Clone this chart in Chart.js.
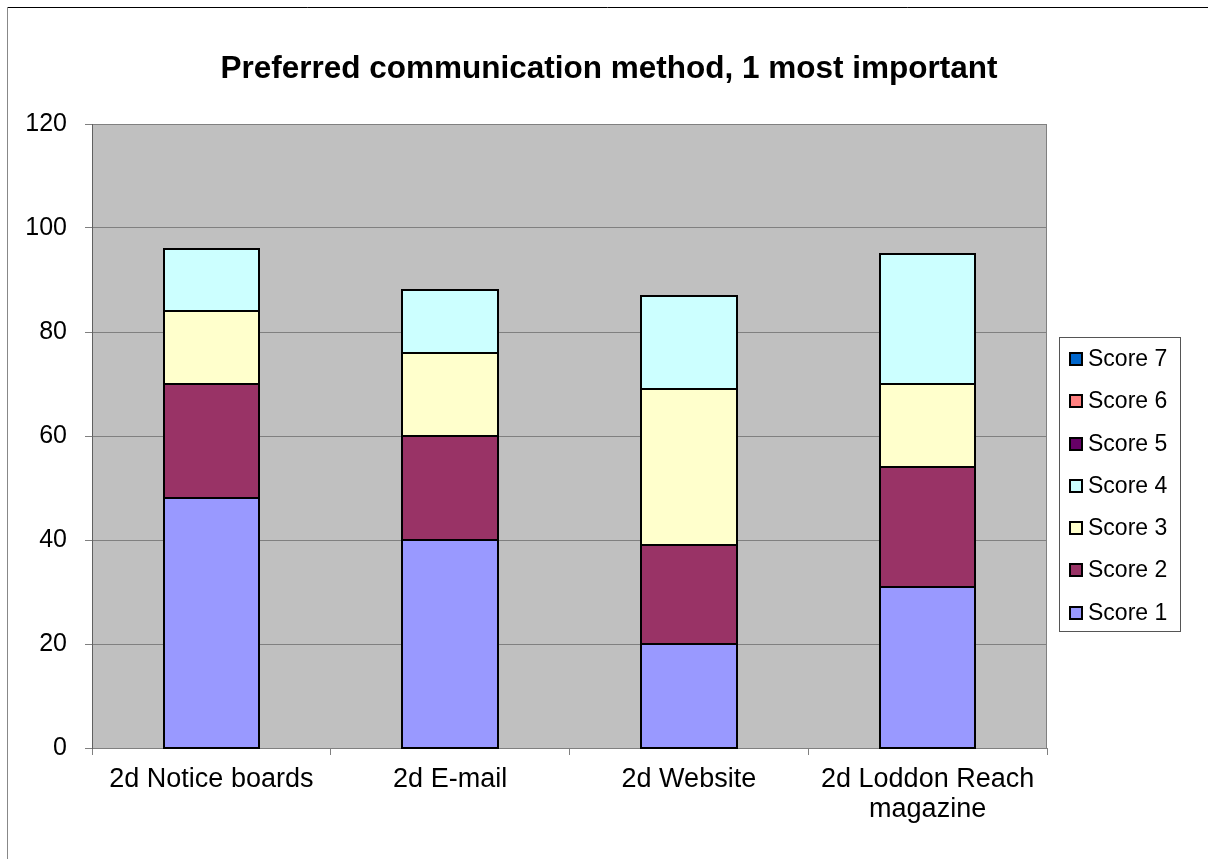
<!DOCTYPE html>
<html lang="en">
  <head>
    <meta charset="UTF-8" />
    <title>Preferred communication method</title>
    <script src="https://cdn.jsdelivr.net/npm/chart.js@4.4.0/dist/chart.umd.min.js"></script>
    <style>
      body { margin: 0; background: #fff; }
    </style>
  </head>
  <body>
    <canvas id="myChart" width="1208" height="859"></canvas>

    <script>
      const title = "Preferred communication method, 1 most important";
      const categories = ["2d Notice boards", "2d E-mail", "2d Website", ["2d Loddon Reach", "magazine"]];
      const seriesNames = ["Score 1", "Score 2", "Score 3", "Score 4", "Score 5", "Score 6", "Score 7"];
      const score1 = [48, 40, 20, 31];
      const score2 = [22, 20, 19, 23];
      const score3 = [14, 16, 30, 16];
      const score4 = [12, 12, 18, 25];
      const score5 = [0, 0, 0, 0];
      const score6 = [0, 0, 0, 0];
      const score7 = [0, 0, 0, 0];
      const colors = ["#9999FF", "#993366", "#FFFFCC", "#CCFFFF", "#660066", "#FF8080", "#0066CC"];

      const allScores = [score1, score2, score3, score4, score5, score6, score7];
      const datasets = allScores.map((vals, i) => ({
        label: seriesNames[i],
        data: vals,
        backgroundColor: colors[i],
        borderWidth: 0,
        barPercentage: 0.4,
        categoryPercentage: 1,
      }));

      // plot background, outer frame, bar outlines, title and the boxed legend
      const decor = {
        id: "decor",
        beforeDraw(chart) {
          const ctx = chart.ctx;
          const a = chart.chartArea;
          ctx.save();
          ctx.fillStyle = "#fff";
          ctx.fillRect(0, 0, chart.width, chart.height);
          ctx.fillStyle = "#C0C0C0";
          ctx.fillRect(a.left, a.top, a.right - a.left, a.bottom - a.top);
          ctx.strokeStyle = "#808080";
          ctx.lineWidth = 1;
          ctx.strokeRect(a.left + 0.5, a.top + 0.5, a.right - a.left - 1, a.bottom - a.top);
          // outer frame (only top and left show)
          ctx.beginPath();
          ctx.strokeStyle = "#000";
          ctx.moveTo(7, 7.5);
          ctx.lineTo(chart.width, 7.5);
          ctx.stroke();
          ctx.beginPath();
          ctx.strokeStyle = "#888";
          ctx.moveTo(7.5, 7);
          ctx.lineTo(7.5, chart.height);
          ctx.stroke();
          ctx.restore();
        },
        afterDatasetsDraw(chart) {
          const ctx = chart.ctx;
          ctx.save();
          ctx.strokeStyle = "#000";
          ctx.lineWidth = 2;
          chart.data.datasets.forEach((d, i) => {
            chart.getDatasetMeta(i).data.forEach((bar, j) => {
              if (!d.data[j]) return;
              const l = Math.round(bar.x - bar.width / 2);
              const r = Math.round(bar.x + bar.width / 2);
              const t = Math.round(bar.y);
              const b = Math.round(bar.base);
              ctx.strokeRect(l, t, r - l, b - t);
            });
          });
          ctx.restore();
        },
        afterDraw(chart) {
          const ctx = chart.ctx;
          ctx.save();
          ctx.fillStyle = "#000";
          ctx.font = "bold 31.5px 'Liberation Sans', Arial, sans-serif";
          ctx.textAlign = "center";
          ctx.textBaseline = "middle";
          ctx.fillText(title, 609, 69);

          // legend
          ctx.strokeStyle = "#555";
          ctx.lineWidth = 1;
          ctx.strokeRect(1059.5, 337.5, 121, 294);
          ctx.font = "23px 'Liberation Sans', Arial, sans-serif";
          ctx.textAlign = "left";
          const ds = chart.data.datasets.slice().reverse();
          ds.forEach((d, i) => {
            const cy = Math.round(359 + i * 42.25);
            ctx.fillStyle = d.backgroundColor;
            ctx.fillRect(1070, cy - 6, 12, 12);
            ctx.strokeStyle = "#000";
            ctx.lineWidth = 2;
            ctx.strokeRect(1070, cy - 6, 12, 12);
            ctx.fillStyle = "#000";
            ctx.fillText(d.label, 1088, cy + 1);
          });
          ctx.restore();
        },
      };

      const ctx = document.getElementById("myChart").getContext("2d");
      const myChart = new Chart(ctx, {
        type: "bar",
        data: { labels: categories, datasets: datasets },
        plugins: [decor],
        options: {
          responsive: false,
          animation: false,
          layout: { padding: { left: 0, right: 161, top: 124, bottom: 0 } },
          plugins: {
            legend: { display: false },
            title: { display: false },
            tooltip: { enabled: false },
          },
          scales: {
            x: {
              stacked: true,
              offset: true,
              afterFit: (scale) => { scale.height = 111; },
              grid: {
                offset: true,
                drawOnChartArea: false,
                drawTicks: true,
                tickLength: 7,
                color: "#808080",
              },
              border: { color: "#808080", width: 1 },
              ticks: {
                color: "#000",
                padding: 9,
                maxRotation: 0,
                font: { family: "'Liberation Sans', Arial, sans-serif", size: 27, lineHeight: 1.12 },
              },
            },
            y: {
              stacked: true,
              min: 0,
              max: 120,
              afterFit: (scale) => { scale.width = 92; },
              grid: {
                color: "#808080",
                drawTicks: true,
                tickLength: 7,
              },
              border: { color: "#606060", width: 1 },
              ticks: {
                stepSize: 20,
                color: "#000",
                padding: 18,
                font: { family: "'Liberation Sans', Arial, sans-serif", size: 25 },
              },
            },
          },
        },
      });
    </script>
  </body>
</html>
